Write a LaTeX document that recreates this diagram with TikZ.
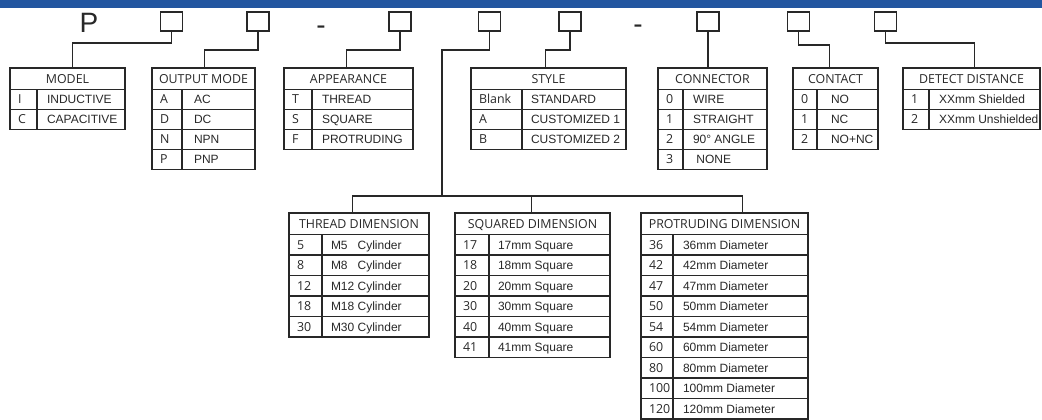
\documentclass[tikz,border=0pt]{standalone}
\usepackage{fontspec}
\setmainfont{Liberation Sans}
\newfontfamily\hdrfont{Open Sans}
\definecolor{barblue}{RGB}{35,86,160}
\definecolor{ink}{RGB}{40,40,40}
% #1 text pad, #2 name, #3 left, #4 divider, #5 right, #6 top, #7 row height, #8 title, #9 rows
\newcommand\spectable[9][10]{%
  \node[hdrcell,minimum width={#5-#3}] (#2) at ({(#3+#5)/2},{#6+10.75}) {#8};
  \foreach \code/\desc [count=\row] in {#9}{
    \pgfmathsetmacro\cw{#4-#3-16}
    \pgfmathsetmacro\dw{#5-#4-2*#1}
    \node[cell,codefont,minimum width={#4-#3},minimum height=#7,inner xsep=8pt]
      (#2-c\row) at ({(#3+#4)/2},{#6+21.5+(\row-0.5)*#7}) {\makebox[\cw pt][l]{\code}};
    \node[cell,minimum width={#5-#4},minimum height=#7,inner xsep=#1pt]
      (#2-d\row) at ({(#4+#5)/2},{#6+21.5+(\row-0.5)*#7}) {\makebox[\dw pt][l]{\desc}};
  }%
}
\begin{document}
\begin{tikzpicture}[x=1pt,y=-1pt,
  hdrcell/.style={draw=ink,line width=1.3pt,minimum height=21.5pt,inner sep=0pt,text=ink,
    font=\hdrfont\fontsize{12.4}{14}\selectfont,text height=8.9pt,text depth=0pt},
  cell/.style={draw=ink,line width=1.3pt,inner ysep=0pt,text=ink,
    font=\fontsize{12}{14}\selectfont,text height=8.6pt,text depth=0pt},
  codefont/.style={font=\hdrfont\fontsize{12.4}{14}\selectfont,text height=8.9pt},
  slot/.style={draw=ink,line width=1.4pt,minimum width=22pt,minimum height=19pt,inner sep=0pt},
  bigchar/.style={inner sep=0pt,text=ink,font=\fontsize{28}{30}\selectfont},
  wire/.style={draw=ink,line width=1.5pt}]
\useasboundingbox (0,0) rectangle (1042,420);
\fill[barblue] (0,0) rectangle (1042,8);

\node[bigchar] (pchar) at (89,23) {P};
\node[bigchar,anchor=base] (dash1) at (321,34.5) {-};
\node[bigchar,anchor=base] (dash2) at (638,34) {-};
\foreach \x [count=\i] in {171.5,258,400,489.5,570,708,798.5,885.5}
  \node[slot] (s\i) at (\x,21.5) {};

\spectable{model}{10}{37}{125}{68}{20}{MODEL}{I/INDUCTIVE,C/CAPACITIVE}
\spectable[12]{outmode}{152}{182}{255}{68}{20}{OUTPUT MODE}{A/AC,D/DC,N/NPN,P/PNP}
\spectable{appear}{284}{312}{413}{68}{20}{APPEARANCE}{T/THREAD,S/SQUARE,F/PROTRUDING}
\spectable[9]{style}{471}{522}{626}{68}{20}{STYLE}{Blank/STANDARD,A/CUSTOMIZED 1,B/CUSTOMIZED 2}
\spectable{conn}{658}{683}{767}{68}{20}{CONNECTOR}{0/WIRE,1/STRAIGHT,2/90° ANGLE,3/~NONE}
\spectable[14]{contact}{793}{817}{878}{68}{20}{CONTACT}{0/NO,1/NC,2/NO+NC}
\spectable{detect}{903}{929}{1040}{68}{20}{DETECT DISTANCE}{1/XXmm Shielded,2/XXmm Unshielded}
\spectable[9]{thread}{289}{322}{429}{213}{20.5}{THREAD DIMENSION}{5/M5\hspace{0.83em}Cylinder,8/M8\hspace{0.83em}Cylinder,12/M12 Cylinder,18/M18 Cylinder,30/M30 Cylinder}
\spectable[9]{squared}{455}{489}{610}{213}{20.5}{SQUARED DIMENSION}{17/17mm Square,18/18mm Square,20/20mm Square,30/30mm Square,40/40mm Square,41/41mm Square}
\spectable{prot}{641}{673}{808}{213}{20.5}{PROTRUDING DIMENSION}{36/36mm Diameter,42/42mm Diameter,47/47mm Diameter,50/50mm Diameter,54/54mm Diameter,60/60mm Diameter,80/80mm Diameter,100/100mm Diameter,120/120mm Diameter}

\coordinate (trunk) at (442,196);
\draw[wire] (s1.south) -- ++(0,11.5) -| ([xshift=63pt]model.north west);
\draw[wire] (s2.south) -- ++(0,18.5) -| ([xshift=53pt]outmode.north west);
\draw[wire] (s3.south) -- ++(0,18.5) -| ([xshift=63pt]appear.north west);
\draw[wire] (s4.south) -- ++(0,18.5) -| (trunk);
\draw[wire] (trunk) -| ([xshift=64pt]thread.north west);
\draw[wire] (trunk) -| ([xshift=77pt]squared.north west);
\draw[wire] (trunk) -| ([xshift=102pt]prot.north west);
\draw[wire] (s5.south) -- ++(0,18.5) -| ([xshift=75pt]style.north west);
\draw[wire] (s6.south) -- (s6.south |- conn.north);
\draw[wire] (s7.south) -- ++(0,13.5) -| ([xshift=37pt]contact.north west);
\draw[wire] (s8.south) -- ++(0,11.5) -| ([xshift=72pt]detect.north west);
\end{tikzpicture}
\end{document}
